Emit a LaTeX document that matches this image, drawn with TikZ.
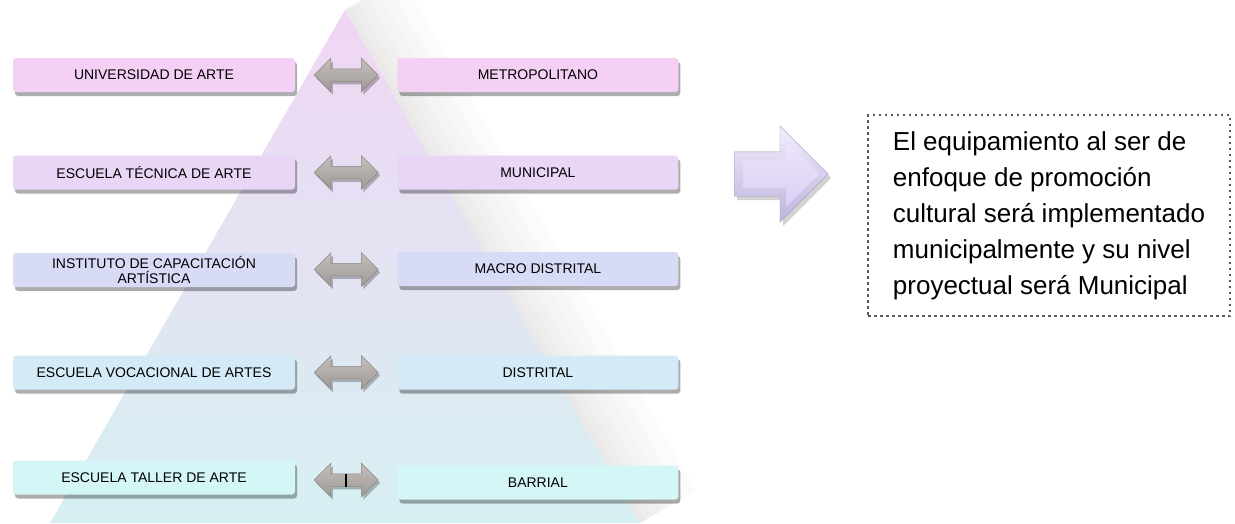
\documentclass[tikz,border=0pt]{standalone}
\usepackage{fontspec}
\setmainfont{Liberation Sans}
\usetikzlibrary{positioning, shapes.arrows, shadows, calc}
\definecolor{lvlone}{RGB}{245, 208, 245}
\definecolor{lvltwo}{RGB}{233, 213, 246}
\definecolor{lvlthree}{RGB}{216, 219, 246}
\definecolor{lvlfour}{RGB}{213, 234, 247}
\definecolor{lvlfive}{RGB}{212, 246, 246}
\definecolor{pyrtop}{RGB}{240, 214, 243}
\definecolor{pyrmid}{RGB}{222, 218, 243}
\definecolor{pyrbot}{RGB}{214, 240, 242}
\definecolor{pyrshade}{RGB}{150, 145, 140}
\definecolor{arrtop}{RGB}{196, 191, 186}
\definecolor{arrbot}{RGB}{158, 153, 148}
\definecolor{arrline}{RGB}{140, 135, 130}
\definecolor{bigtop}{RGB}{242, 238, 252}
\definecolor{bigbot}{RGB}{190, 178, 222}
\definecolor{facetop}{RGB}{236, 229, 251}
\definecolor{facebot}{RGB}{218, 208, 244}
\definecolor{dotcolor}{RGB}{90, 90, 90}

\begin{document}
\begin{tikzpicture}[
  x=1pt, y=-1pt,
  % --- Styles ---
  lvlbox/.style={
    rectangle, rounded corners=3pt, fill=#1, draw=none,
    minimum height=34pt, inner sep=0pt, align=center,
    font=\fontsize{14}{15}\selectfont,
    drop shadow={shadow xshift=2pt, shadow yshift=-4pt,
                 fill=black, opacity=0.32}},
  leftbox/.style={lvlbox=#1, minimum width=282pt},
  rightbox/.style={lvlbox=#1, minimum width=281pt},
  dblarrow/.style={
    double arrow, double arrow head extend=10.5pt,
    minimum height=64pt, inner xsep=0pt, inner ysep=6pt,
    top color=arrtop, bottom color=arrbot, draw=arrline, line width=0.5pt,
    drop shadow={shadow xshift=2pt, shadow yshift=-3pt,
                 fill=black, opacity=0.25}},
  shadestroke/.style={draw=pyrshade, opacity=0.035, line width=#1},
]
\useasboundingbox (0,0) rectangle (1235,523);

% === PYRAMID ===
\coordinate (apex) at (345,10);
\coordinate (baseL) at (50,523);
\coordinate (baseR) at (640,523);
% soft shadow on the right flank
\begin{scope}
\clip (apex) -- (baseR) -- (760,523) -- (760,0) -- (345,0) -- cycle;
\draw[shadestroke=130pt] (apex) -- (baseR);
\draw[shadestroke=100pt] (apex) -- (baseR);
\draw[shadestroke=75pt] (apex) -- (baseR);
\draw[shadestroke=50pt] (apex) -- (baseR);
\draw[shadestroke=30pt] (apex) -- (baseR);
\draw[shadestroke=12pt] (apex) -- (baseR);
\end{scope}
\shade[top color=pyrtop, middle color=pyrmid, bottom color=pyrbot]
  (apex) -- (baseR) -- (baseL) -- cycle;

% === NODES ===
% Left column
\node[leftbox=lvlone] (uni) at (154,75) {UNIVERSIDAD DE ARTE};
\node[leftbox=lvltwo] (tec) at (154,172.5) {ESCUELA TÉCNICA DE ARTE};
\node[leftbox=lvlthree] (ins) at (154,270)
  {INSTITUTO DE CAPACITACIÓN\\ARTÍSTICA};
\node[leftbox=lvlfour] (voc) at (154,372.5) {ESCUELA VOCACIONAL DE ARTES};
\node[leftbox=lvlfive] (tal) at (154,477.5) {ESCUELA TALLER DE ARTE};
% Right column
\node[rightbox=lvlone, right=102pt of uni] (metro) {METROPOLITANO};
\node[rightbox=lvltwo, right=102pt of tec] (muni) {MUNICIPAL};
\node[rightbox=lvlthree, right=102pt of ins, yshift=1pt] (macro) {MACRO DISTRITAL};
\node[rightbox=lvlfour, right=102pt of voc] (distr) {DISTRITAL};
\node[rightbox=lvlfive, right=102pt of tal, yshift=-5pt] (barr) {BARRIAL};
% Double arrows between columns
\node[dblarrow] (lk1) at ($(uni.east)!0.5!(metro.west)$) {};
\node[dblarrow] (lk2) at ($(tec.east)!0.5!(muni.west)$) {};
\node[dblarrow] (lk3) at ($(ins.east)!0.5!(macro.west)$) {};
\node[dblarrow] (lk4) at ($(voc.east)!0.5!(distr.west)$) {};
\node[dblarrow] (lk5) at ($(tal.east)!0.5!(barr.west)$) {};
\draw[line width=1.6pt] (lk5.center) ++(0,-6) -- ++(0,13);

% Big arrow
\node[single arrow, single arrow head extend=26pt, minimum height=94pt,
      inner xsep=0pt, inner ysep=22pt, top color=bigtop, bottom color=bigbot,
      draw=bigbot!85!black, line width=0.3pt, anchor=tail,
      drop shadow={shadow xshift=3pt, shadow yshift=-4pt, fill=black, opacity=0.18}]
  (pointer) at (734,174) {};
\node[single arrow, single arrow head extend=19pt, minimum height=76pt,
      inner xsep=0pt, inner ysep=14pt, top color=facetop, bottom color=facebot,
      anchor=tail] (pointerface) at ($(pointer.tail)+(9,0)$) {};

% Note
\node[draw=dotcolor, line width=2.5pt, dash pattern=on 2.5pt off 3.5pt,
      minimum width=362pt, minimum height=201pt, inner sep=0pt,
      align=left, font=\fontsize{26}{36}\selectfont]
  (note) at (1049,215.5) {%
  El equipamiento al ser de\\
  enfoque de promoción\\
  cultural será implementado\\
  municipalmente y su nivel\\
  proyectual será Municipal};
\end{tikzpicture}
\end{document}
